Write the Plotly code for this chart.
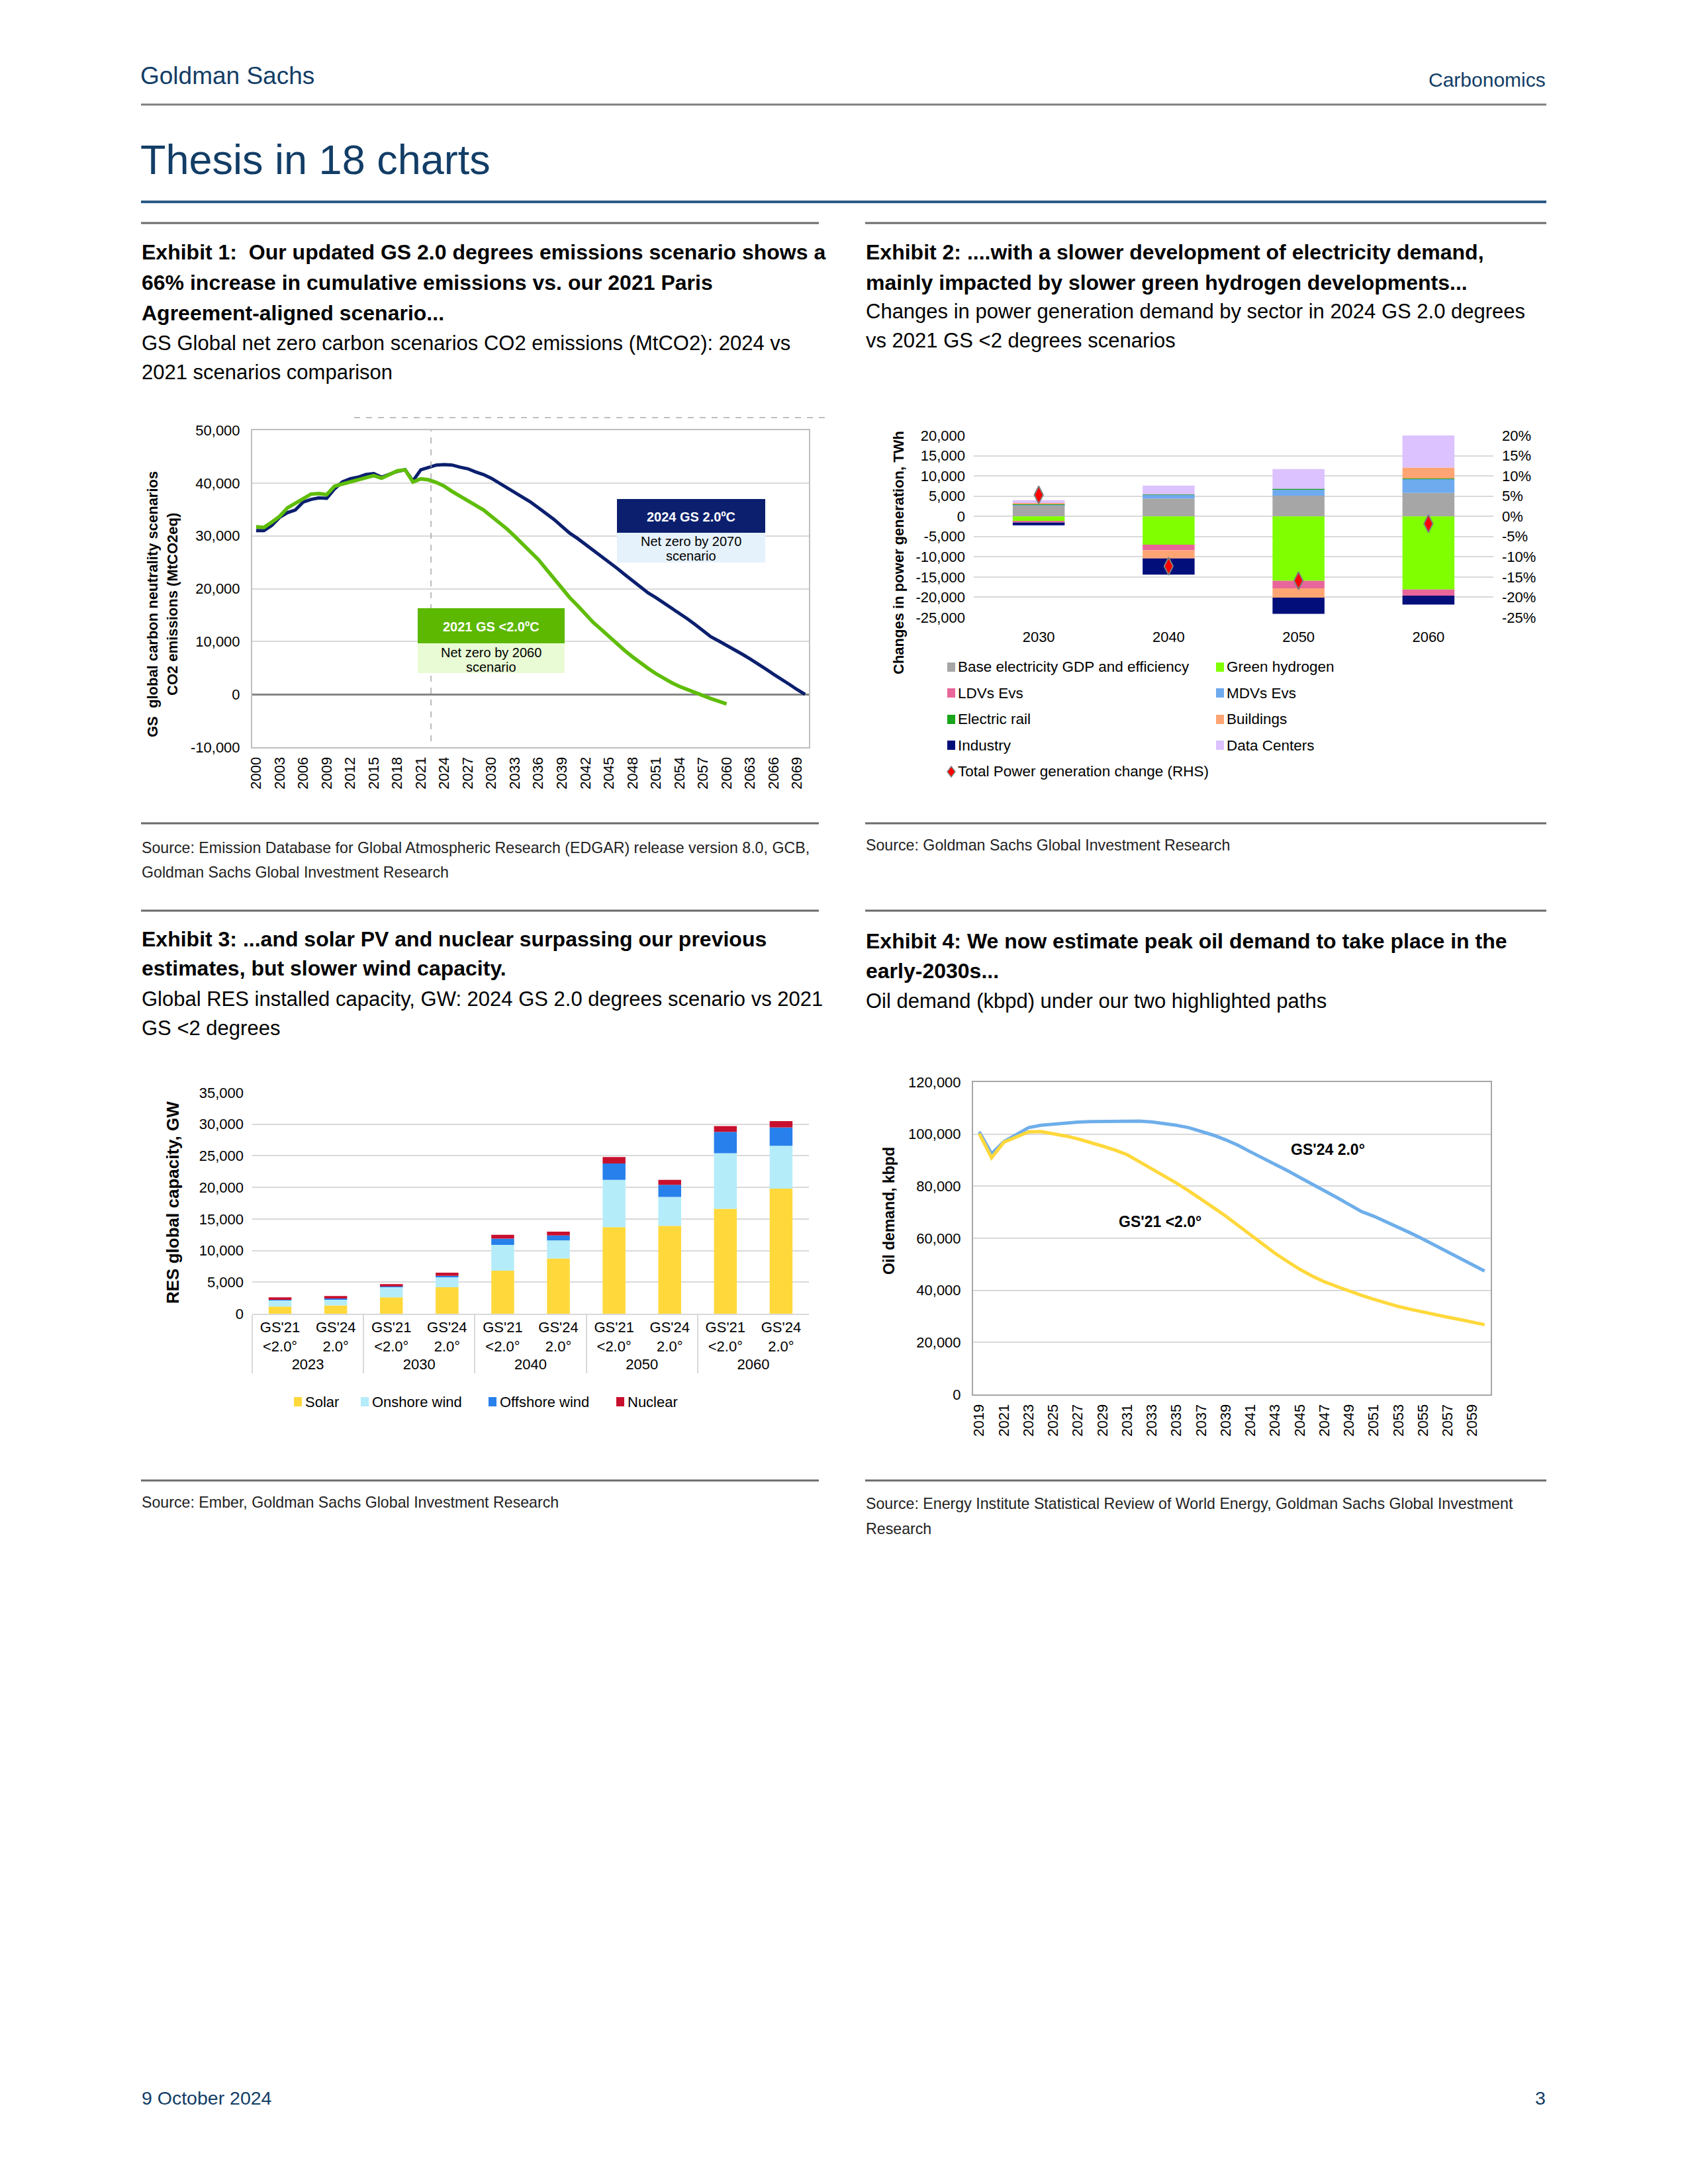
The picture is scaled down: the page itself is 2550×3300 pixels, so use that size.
import plotly.graph_objects as go

W, H = 2550, 3300
def X(p): return p / W
def Y(p): return 1 - p / H

DOC = "Liberation Sans, Arial, sans-serif"
CH = "Liberation Sans, Arial, sans-serif"
GSBLUE = "#123d66"

# ---------------- Exhibit 1 data ----------------
e1_years_24 = list(range(2000, 2071))
e1_gs24 = [31000, 31000, 32000, 33500, 34400, 34900, 36400, 36900, 37200, 37100,
           38900, 40200, 40800, 41100, 41600, 41800, 41100, 41600, 42200, 42500,
           40400, 42500, 42900, 43400, 43500, 43400, 43000, 42700, 42100, 41600,
           40900, 40000, 39100, 38200, 37300, 36400, 35300, 34200, 33100, 31800,
           30500, 29500, 28400, 27300, 26100, 25000, 23900, 22700, 21500, 20200,
           19200, 18300, 17300, 16400, 15400, 14300, 13200, 12100, 10900, 10100,
           9300, 8500, 7600, 6700, 5800, 4800, 3800, 2900, 1900, 900, 0]
e1_years_21 = list(range(2000, 2061))
e1_gs21 = [31700, 31600, 32600, 33700, 35300, 36200, 37000, 37900, 38000, 37800,
           39400, 39800, 40200, 40700, 41100, 41400, 40900, 41600, 42300, 42500,
           40200, 40800, 40600, 40100, 39400, 38400, 37500, 36600, 35800, 34900,
           33700, 32600, 31300, 29900, 28500, 27000, 25500, 23700, 21900, 20100,
           18300, 16800, 15200, 13600, 12300, 10900, 9600, 8300, 7100, 5900,
           4900, 3900, 3000, 2200, 1500, 900, 400, -200, -800, -1300, -1800]
e1_yticks = [-10000, 0, 10000, 20000, 30000, 40000, 50000]
e1_yticktext = ["-10,000", "0", "10,000", "20,000", "30,000", "40,000", "50,000"]
e1_xticks = list(range(2000, 2070, 3))

# ---------------- Exhibit 2 data ----------------
e2_cats = ["2030", "2040", "2050", "2060"]
e2_names = ["Base electricity GDP and efficiency", "Green hydrogen", "LDVs Evs", "MDVs Evs",
            "Electric rail", "Buildings", "Industry", "Data Centers"]
e2_base = [2800, 4400, 5100, 5800]
e2_h2 = [-1200, -7000, -15900, -18100]
e2_ldv = [-300, -1400, -1900, -1500]
e2_mdv = [150, 900, 1600, 3400]
e2_rail = [50, 100, 100, 150]
e2_build = [300, -2000, -2300, 2700]
e2_ind = [-700, -4000, -4000, -2200]
e2_dc = [700, 2200, 4900, 8000]
e2_total_name = "Total Power generation change (RHS)"
e2_total_pct = [5.3, -12.3, -15.9, -1.8]
e2_colors = ["#a6a6a6", "#80ff00", "#e8669a", "#6eaaee", "#1aa51a", "#ffa574", "#020f7a", "#dcc2ff"]
e2_yticks = list(range(-25000, 20001, 5000))
e2_yticktext = [f"{v:,}" for v in e2_yticks]
e2_rticks = list(range(-25, 21, 5))
e2_rticktext = [f"{v}%" for v in e2_rticks]

# ---------------- Exhibit 3 data ----------------
e3_years = ["2023", "2023", "2030", "2030", "2040", "2040", "2050", "2050", "2060", "2060"]
e3_scen = ["GS'21<br><2.0°", "GS'24<br>2.0°"] * 5
e3_names = ["Solar", "Onshore wind", "Offshore wind", "Nuclear"]
e3_solar = [1130, 1300, 2600, 4200, 6800, 8760, 13700, 13900, 16600, 19800]
e3_onshore = [970, 1000, 1660, 1600, 4100, 2840, 7500, 4600, 8800, 6800]
e3_offshore = [100, 100, 70, 200, 1000, 800, 2600, 1900, 3400, 2900]
e3_nuclear = [400, 400, 370, 500, 600, 600, 1000, 800, 900, 1000]
e3_colors = ["#ffd93b", "#b5ecfa", "#2780eb", "#c8102e"]
e3_yticks = list(range(0, 35001, 5000))
e3_yticktext = [f"{v:,}" for v in e3_yticks]

# ---------------- Exhibit 4 data ----------------
e4_years = list(range(2019, 2061))
e4_gs24 = [100900, 92500, 97100, 99800, 102500, 103400, 103900, 104300, 104600, 104800,
           104900, 104900, 105000, 105000, 104700, 104100, 103400, 102500, 101100, 99600,
           97800, 95700, 93200, 90900, 88400, 86000, 83400, 80900, 78500, 75700,
           73000, 70300, 68500, 66400, 64200, 62000, 59700, 57300, 54900, 52400,
           50100, 47400]
e4_gs21 = [100200, 90900, 96900, 98900, 100900, 101000, 100200, 99300, 98200, 96900,
           95400, 93900, 92100, 89400, 86700, 83900, 81200, 78200, 75100, 71800,
           68500, 64900, 61200, 57600, 54200, 51100, 48100, 45500, 43300, 41500,
           39700, 38100, 36600, 35100, 33800, 32700, 31600, 30600, 29700, 28800,
           27800, 26800]
e4_yticks = list(range(0, 120001, 20000))
e4_yticktext = [f"{v:,}" for v in e4_yticks]
e4_xticks = list(range(2019, 2060, 2))

fig = go.Figure()

# Exhibit 1 traces
fig.add_trace(go.Scatter(x=e1_years_24, y=e1_gs24, mode="lines", xaxis="x", yaxis="y",
                         line=dict(color="#0b1f6e", width=5), showlegend=False))
fig.add_trace(go.Scatter(x=e1_years_21, y=e1_gs21, mode="lines", xaxis="x", yaxis="y",
                         line=dict(color="#5fbd0a", width=5.5), showlegend=False))

# Exhibit 2 traces
for name, vals, col in zip(e2_names, [e2_base, e2_h2, e2_ldv, e2_mdv, e2_rail, e2_build, e2_ind, e2_dc], e2_colors):
    fig.add_trace(go.Bar(x=e2_cats, y=vals, name=name, xaxis="x2", yaxis="y2", width=0.4,
                         marker=dict(color=col, line=dict(width=0)), showlegend=False))
fig.add_trace(go.Scatter(x=e2_cats, y=e2_total_pct, mode="markers", name=e2_total_name, xaxis="x2", yaxis="y3",
                         marker=dict(symbol="diamond-tall", size=19, color="#ff0000",
                                     line=dict(color="#7f7f7f", width=2)), showlegend=False))

# Exhibit 3 traces
for name, vals, col in zip(e3_names, [e3_solar, e3_onshore, e3_offshore, e3_nuclear], e3_colors):
    fig.add_trace(go.Bar(x=[e3_years, e3_scen], y=vals, name=name, xaxis="x3", yaxis="y4", width=0.41,
                         marker=dict(color=col, line=dict(width=0)), showlegend=False))

# Exhibit 4 traces
fig.add_trace(go.Scatter(x=e4_years, y=e4_gs24, mode="lines", xaxis="x4", yaxis="y5",
                         line=dict(color="#6eaeea", width=5), showlegend=False))
fig.add_trace(go.Scatter(x=e4_years, y=e4_gs21, mode="lines", xaxis="x4", yaxis="y5",
                         line=dict(color="#ffd83b", width=5), showlegend=False))

tf = dict(family=CH, size=22, color="#000000")
GRID = "#d9d9d9"

fig.update_layout(
    width=W, height=H, margin=dict(l=0, r=0, t=0, b=0, pad=0, autoexpand=False),
    paper_bgcolor="white", plot_bgcolor="white", barmode="relative", showlegend=False,
    xaxis=dict(domain=[X(381), X(1222)], anchor="y", range=[1999.5, 2070.5], tickvals=e1_xticks,
               tickangle=-90, tickfont=tf, showgrid=False, zeroline=False, showline=True, mirror=True,
               linecolor="#bfbfbf", linewidth=2, ticks="", ticklabelstandoff=4, automargin=False),
    yaxis=dict(domain=[Y(1129), Y(650)], anchor="x", range=[-10000, 50000], tickvals=e1_yticks,
               ticktext=e1_yticktext, tickfont=tf, showgrid=True, gridcolor=GRID, gridwidth=2,
               zeroline=True, zerolinecolor="#868686", zerolinewidth=3, showline=True, mirror=True,
               linecolor="#bfbfbf", linewidth=2, ticks="", ticklabelstandoff=12, automargin=False),
    xaxis2=dict(domain=[X(1471), X(2256)], anchor="y2", type="category", tickfont=tf, showgrid=False,
                zeroline=False, showline=False, ticks="", ticklabelstandoff=14, automargin=False),
    yaxis2=dict(domain=[Y(933), Y(658)], anchor="x2", range=[-25000, 20000], tickvals=e2_yticks,
                ticktext=e2_yticktext, tickfont=tf, showgrid=True, gridcolor=GRID, gridwidth=2,
                zeroline=False, showline=False, ticks="", ticklabelstandoff=12, automargin=False),
    yaxis3=dict(anchor="x2", overlaying="y2", side="right", range=[-25, 20], tickvals=e2_rticks,
                ticktext=e2_rticktext, tickfont=tf, showgrid=False, zeroline=False, showline=False,
                ticks="", ticklabelstandoff=12, automargin=False),
    xaxis3=dict(domain=[X(381), X(1222)], anchor="y4", type="multicategory", tickfont=tf,
                showgrid=False, zeroline=False, showline=True, linecolor=GRID, linewidth=2,
                showdividers=True, dividercolor=GRID, dividerwidth=2, ticks="", automargin=False),
    yaxis4=dict(domain=[Y(1985), Y(1651)], anchor="x3", range=[0, 35000], tickvals=e3_yticks,
                ticktext=e3_yticktext, tickfont=tf, showgrid=True, gridcolor=GRID, gridwidth=2,
                zeroline=False, showline=False, ticks="", ticklabelstandoff=12, automargin=False),
    xaxis4=dict(domain=[X(1470), X(2252)], anchor="y5", range=[2018.5, 2060.5], tickvals=e4_xticks,
                tickangle=-90, tickfont=tf, showgrid=False, zeroline=False, showline=True, mirror=True,
                linecolor="#a6a6a6", linewidth=2, ticks="", ticklabelstandoff=4, automargin=False),
    yaxis5=dict(domain=[Y(2107), Y(1635)], anchor="x4", range=[0, 120000], tickvals=e4_yticks,
                ticktext=e4_yticktext, tickfont=tf, showgrid=True, gridcolor=GRID, gridwidth=2,
                zeroline=False, showline=True, mirror=True, linecolor="#a6a6a6", linewidth=2,
                ticks="", ticklabelstandoff=12, automargin=False),
)

ann = []
shapes = []

def txt(x, y, s, size, color="#000000", family=DOC, xa="left", ya="middle", angle=0):
    ann.append(dict(x=X(x), y=Y(y), xref="paper", yref="paper", text=s, showarrow=False,
                    xanchor=xa, yanchor=ya, textangle=angle, borderpad=0,
                    font=dict(family=family, size=size, color=color)))

def hline(x0, x1, y, color, width, dash="solid"):
    shapes.append(dict(type="line", xref="paper", yref="paper", x0=X(x0), x1=X(x1), y0=Y(y), y1=Y(y),
                       line=dict(color=color, width=width, dash=dash)))

def rect(x0, y0, x1, y1, color):
    shapes.append(dict(type="rect", xref="paper", yref="paper", x0=X(x0), x1=X(x1), y0=Y(y1), y1=Y(y0),
                       fillcolor=color, line=dict(width=0), layer="above"))

# header
txt(211, 114, "Goldman Sachs", 37, GSBLUE)
txt(2336, 120, "Carbonomics", 30, GSBLUE, xa="right")
hline(213, 2336, 158, "#7f7f7f", 3)
txt(211, 241, "Thesis in 18 charts", 63, GSBLUE)
hline(213, 2336, 305, "#2b5a85", 4)

# exhibit rules
for y in (337, 1244, 1376, 2237):
    hline(213, 1237, y, "#6b6b6b", 3)
    hline(1307, 2336, y, "#6b6b6b", 3)

TS = 32
SS = 31
# Exhibit 1 titles
txt(213, 381, "<b>Exhibit 1:  Our updated GS 2.0 degrees emissions scenario shows a</b>", TS)
txt(213, 427, "<b>66% increase in cumulative emissions vs. our 2021 Paris</b>", TS)
txt(213, 473, "<b>Agreement-aligned scenario...</b>", TS)
txt(213, 518, "GS Global net zero carbon scenarios CO2 emissions (MtCO2): 2024 vs", SS)
txt(213, 562, "2021 scenarios comparison", SS)
# Exhibit 2 titles
txt(1307, 381, "<b>Exhibit 2: ....with a slower development of electricity demand,</b>", TS)
txt(1307, 427, "<b>mainly impacted by slower green hydrogen developments...</b>", TS)
txt(1307, 471, "Changes in power generation demand by sector in 2024 GS 2.0 degrees", SS)
txt(1307, 515, "vs 2021 GS <2 degrees scenarios", SS)
# Exhibit 3 titles
txt(213, 1419, "<b>Exhibit 3: ...and solar PV and nuclear surpassing our previous</b>", TS)
txt(213, 1463, "<b>estimates, but slower wind capacity.</b>", TS)
txt(213, 1509, "Global RES installed capacity, GW: 2024 GS 2.0 degrees scenario vs 2021", SS)
txt(213, 1553, "GS <2 degrees", SS)
# Exhibit 4 titles
txt(1307, 1422, "<b>Exhibit 4: We now estimate peak oil demand to take place in the</b>", TS)
txt(1307, 1467, "<b>early-2030s...</b>", TS)
txt(1307, 1512, "Oil demand (kbpd) under our two highlighted paths", SS)

# sources
SRC = 23.2
txt(213, 1281, "Source: Emission Database for Global Atmospheric Research (EDGAR) release version 8.0, GCB,", SRC, "#222222")
txt(213, 1318, "Goldman Sachs Global Investment Research", SRC, "#222222")
txt(1307, 1277, "Source: Goldman Sachs Global Investment Research", SRC, "#222222")
txt(213, 2270, "Source: Ember, Goldman Sachs Global Investment Research", SRC, "#222222")
txt(1307, 2272, "Source: Energy Institute Statistical Review of World Energy, Goldman Sachs Global Investment", SRC, "#222222")
txt(1307, 2310, "Research", SRC, "#222222")

# footer
txt(213, 3170, "9 October 2024", 28.5, GSBLUE)
txt(2336, 3170, "3", 28.5, GSBLUE, xa="right")

# Exhibit 1 decorations
hline(535, 1250, 631, "#bfbfbf", 2, "dash")
shapes.append(dict(type="line", xref="x", yref="paper", x0=2022.3, x1=2022.3, y0=Y(1120), y1=Y(650),
                   line=dict(color="#a6a6a6", width=1.5, dash="dash")))
txt(231, 913, "<b>GS\u00a0\u00a0global carbon neutrality scenarios</b>", 22, family=CH, xa="center", angle=-90)
txt(261, 913, "<b>CO2 emissions (MtCO2eq)</b>", 22, family=CH, xa="center", angle=-90)
rect(932, 754, 1156, 805, "#0b1f6e")
rect(932, 805, 1156, 850, "#e6f2fb")
txt(1044, 781, "<b>2024 GS 2.0ºC</b>", 20, "#ffffff", family=CH, xa="center")
txt(1044, 818, "Net zero by 2070", 20, family=CH, xa="center")
txt(1044, 840, "scenario", 20, family=CH, xa="center")
rect(631, 919, 853, 972, "#5cb800")
rect(631, 972, 853, 1017, "#e9fbd5")
txt(742, 947, "<b>2021 GS <2.0ºC</b>", 20, "#ffffff", family=CH, xa="center")
txt(742, 986, "Net zero by 2060", 20, family=CH, xa="center")
txt(742, 1008, "scenario", 20, family=CH, xa="center")

# Exhibit 2 decorations
txt(1357, 835, "<b>Changes in power generation, TWh</b>", 22, family=CH, xa="center", angle=-90)
leg_pos = [(1437, 1008), (1843, 1008), (1437, 1047), (1843, 1047), (1437, 1087), (1843, 1087),
           (1437, 1126), (1843, 1126)]
for (lx, ly), name, col in zip(leg_pos, e2_names, e2_colors):
    rect(lx - 6, ly - 7, lx + 6, ly + 7, col)
    txt(lx + 9, ly, name, 22.5, family=CH)
shapes.append(dict(type="path", xref="paper", yref="paper",
                   path=f"M {X(1437)},{Y(1158)} L {X(1443)},{Y(1166)} L {X(1437)},{Y(1174)} L {X(1431)},{Y(1166)} Z",
                   fillcolor="#ff0000", line=dict(color="#7f7f7f", width=1.5)))
txt(1446, 1166, e2_total_name, 22.5, family=CH)

# Exhibit 3 decorations
txt(261, 1817, "<b>RES global capacity, GW</b>", 26, family=CH, xa="center", angle=-90)
for lx, name, col in zip([450, 551, 744, 937], e3_names, e3_colors):
    rect(lx - 6, 2111, lx + 6, 2125, col)
    txt(lx + 10, 2118, name, 22, family=CH)

# Exhibit 4 decorations
txt(1343, 1829, "<b>Oil demand, kbpd</b>", 23, family=CH, xa="center", angle=-90)
txt(2006, 1737, "<b>GS'24 2.0°</b>", 23, family=CH, xa="center")
txt(1752, 1846, "<b>GS'21 <2.0°</b>", 23, family=CH, xa="center")

fig.update_layout(annotations=ann, shapes=shapes)
fig.write_html("out.html", config={"displayModeBar": False},
               post_script="document.body.style.margin='0px';document.body.style.padding='0px';")
